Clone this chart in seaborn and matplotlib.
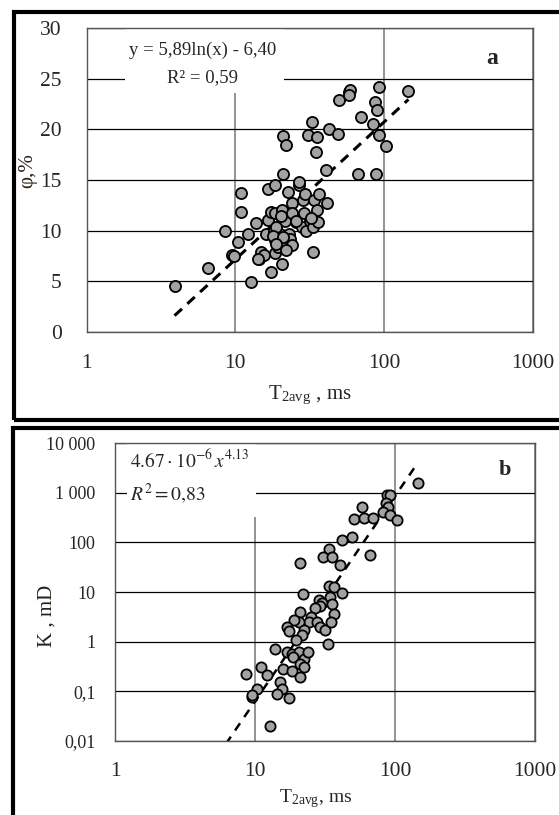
import matplotlib
matplotlib.use("Agg")
import matplotlib.pyplot as plt
import matplotlib.ticker as mticker
from matplotlib.patches import Rectangle
import numpy as np
import seaborn as sns

sns.set_theme(style="white")
plt.rcParams["font.family"] = ["Liberation Serif", "DejaVu Serif"]
plt.rcParams["mathtext.fontset"] = "stix"

# ---- panel a: porosity vs T2avg ----
phi_t2 = [3.9, 6.5, 8.5, 9.5, 9.8, 10.5, 10.9, 11.0, 12.1, 12.7,
          13.8, 14.4, 14.8, 15.6, 16.0, 16.6, 16.6, 17.3, 17.5, 18.4,
          18.6, 18.2, 18.5, 18.4, 19.4, 20.0, 20.5, 20.7, 21.0, 21.0,
          21.6, 21.9, 22.4, 22.5, 22.9, 23.4, 24.0, 24.0, 24.0, 25.5,
          27.0, 27.9, 28.6, 28.9, 29.4, 30.0, 30.7, 31.6, 33.0, 33.2,
          33.6, 33.4, 34.8, 35.3, 35.5, 36.1, 36.7, 40.4, 41.3, 42.4,
          49.1, 50.0, 57.8, 59.0, 66.5, 69.5, 84.5, 86.8, 88.5, 90.3,
          92.0, 92.0, 103.0, 145.0, 26.8, 32.5, 20.4, 18.8, 17.9, 20.9,
          22.0, 18.8, 14.1, 25.6, 58.3]
phi_val = [4.5, 6.3, 10.0, 7.65, 7.5, 8.9, 11.85, 13.7, 9.7, 4.9,
           10.8, 7.25, 7.9, 7.6, 9.7, 14.1, 11.1, 5.9, 11.85, 11.7,
           14.5, 10.0, 7.75, 9.05, 8.4, 9.7, 12.0, 6.75, 19.3, 15.6,
           11.0, 18.5, 8.55, 13.8, 9.7, 9.2, 12.7, 8.55, 11.7, 10.9,
           14.5, 10.4, 13.0, 11.7, 13.65, 10.0, 19.4, 11.0, 20.7, 7.85,
           13.0, 10.4, 17.75, 19.2, 12.0, 10.9, 13.65, 16.0, 12.7, 20.0,
           19.55, 22.85, 23.7, 23.9, 15.6, 21.2, 20.5, 22.7, 15.6, 21.9,
           24.2, 19.4, 18.4, 23.8, 14.76, 11.25, 11.48, 10.34, 9.5, 9.35,
           8.05, 8.7, 7.16, 11.0, 23.44]
phi_fit_a, phi_fit_b = 5.89, -6.40
phi_fit_range = [3.9, 146.0]

# ---- panel b: permeability vs T2avg ----
k_t2 = [146.5, 87.3, 91.7, 86.6, 89.0, 82.6, 92.0, 103.0, 58.6, 51.2,
        59.6, 70.1, 41.8, 49.2, 65.8, 33.6, 30.6, 35.5, 40.2, 20.9,
        33.6, 36.6, 41.8, 34.5, 22.1, 28.5, 30.1, 29.3, 35.5, 36.6,
        27.0, 21.1, 25.1, 24.2, 27.7, 29.3, 31.4, 35.2, 20.5, 19.0,
        17.0, 17.6, 22.5, 21.7, 19.5, 33.0, 14.0, 16.8, 18.4, 20.5,
        22.3, 24.0, 18.7, 15.9, 18.4, 21.1, 22.3, 20.8, 11.0, 12.2,
        8.6, 15.2, 15.6, 14.4, 17.5, 10.4, 9.6, 9.5, 12.8]
k_val = [1590, 900, 900, 611, 524, 415, 355, 282, 524, 295,
         303, 303, 111, 126, 55.3, 73, 51, 51, 34.8, 37.6,
         13.1, 12.7, 9.7, 8.0, 9.0, 7.0, 6.0, 5.2, 5.8, 3.55,
         4.86, 3.97, 3.15, 2.5, 2.5, 1.98, 1.69, 2.5, 2.5, 2.7,
         1.98, 1.62, 1.69, 1.34, 1.06, 0.91, 0.72, 0.62, 0.57, 0.62,
         0.45, 0.62, 0.49, 0.285, 0.26, 0.35, 0.31, 0.19, 0.31, 0.21,
         0.226, 0.153, 0.113, 0.089, 0.074, 0.113, 0.076, 0.085, 0.0205]
k_fit_a, k_fit_b = 4.67e-6, 4.13
k_fit_range = [6.2, 145.0]

x_ticks = [1, 10, 100, 1000]
x_labels = ["1", "10", "100", "1000"]
phi_ticks = [0, 5, 10, 15, 20, 25, 30]
k_ticks = [0.01, 0.1, 1, 10, 100, 1000, 10000]
k_labels = ["0,01", "0,1", "1", "10", "100", "1 000", "10 000"]

fig = plt.figure(figsize=(5.59, 8.15), dpi=100)

# outer black frames
fig.patches.append(Rectangle((0.025, 0.4847), 1.1, 0.5006, fill=False,
                             ec="black", lw=3.0, transform=fig.transFigure))
fig.patches.append(Rectangle((0.0233, -0.1), 1.1, 0.5748, fill=False,
                             ec="black", lw=3.0, transform=fig.transFigure))

marker_kw = dict(color="#a2a2a2", edgecolor="black", linewidth=1.3, zorder=3)


def style_axes(ax):
    ax.set_axisbelow(True)
    for sp in ax.spines.values():
        sp.set_color("#555555")
        sp.set_linewidth(1.0)
    ax.tick_params(length=0)
    ax.xaxis.grid(True, color="#808080", lw=1.2)
    ax.yaxis.grid(True, color="black", lw=0.9)


# ---- panel a ----
ax1 = fig.add_axes([0.155, 0.5926, 0.798, 0.373])
ax1.set_xscale("log")
ax1.set_xlim(1, 1000)
ax1.set_ylim(0, 30)
style_axes(ax1)
xf = np.array(phi_fit_range)
ax1.plot(xf, phi_fit_a * np.log(xf) + phi_fit_b, color="black", lw=2.2,
         dashes=(3.3, 2.4), zorder=2.5)
sns.scatterplot(x=phi_t2, y=phi_val, ax=ax1, s=64, **marker_kw)
ax1.set_xticks(x_ticks)
ax1.xaxis.set_major_formatter(mticker.FixedFormatter(x_labels))
ax1.xaxis.set_minor_locator(mticker.NullLocator())
ax1.set_yticks(phi_ticks)
ax1.tick_params(axis="x", labelsize=15.5, pad=16)
ax1.tick_params(axis="y", labelsize=15.5, pad=18)
ax1.set_xlabel(r"T$_{\mathregular{2avg}}$ , ms", fontsize=15)
ax1.xaxis.set_label_coords(0.50, -0.17)
ax1.set_ylabel("φ,%", fontsize=15, color="#2b2118")
ax1.yaxis.set_label_coords(-0.11, 0.53)
ax1.add_patch(Rectangle((0.085, 0.786), 0.357, 0.214, transform=ax1.transAxes,
                        fc="white", ec="none", zorder=1))
ax1.text(0.259, 0.925, "y = 5,89ln(x) - 6,40", transform=ax1.transAxes,
         ha="center", va="center", fontsize=13.5, zorder=4)
ax1.text(0.259, 0.836, "R² = 0,59", transform=ax1.transAxes,
         ha="center", va="center", fontsize=13.5, zorder=4)
ax1.text(0.909, 0.901, "a", transform=ax1.transAxes, ha="center",
         va="center", fontsize=17, fontweight="bold")

# ---- panel b ----
ax2 = fig.add_axes([0.2057, 0.0908, 0.7513, 0.3656])
ax2.set_xscale("log")
ax2.set_yscale("log")
ax2.set_xlim(1, 1000)
ax2.set_ylim(0.01, 10000)
style_axes(ax2)
xf2 = np.array(k_fit_range)
ax2.plot(xf2, k_fit_a * xf2 ** k_fit_b, color="black", lw=1.8,
         dashes=(3.5, 3.0), zorder=2.5)
sns.scatterplot(x=k_t2, y=k_val, ax=ax2, s=54, **marker_kw)
ax2.set_xticks(x_ticks)
ax2.xaxis.set_major_formatter(mticker.FixedFormatter(x_labels))
ax2.xaxis.set_minor_locator(mticker.NullLocator())
ax2.set_yticks(k_ticks)
ax2.yaxis.set_major_formatter(mticker.FixedFormatter(k_labels))
ax2.yaxis.set_minor_locator(mticker.NullLocator())
ax2.tick_params(axis="x", labelsize=15.5, pad=15)
ax2.tick_params(axis="y", labelsize=13, pad=14)
ax2.set_xlabel(r"T$_{\mathregular{2avg}}$, ms", fontsize=14)
ax2.xaxis.set_label_coords(0.479, -0.155)
ax2.set_ylabel("K , mD", fontsize=15, color="#2b2118")
ax2.yaxis.set_label_coords(-0.14, 0.42)
ax2.add_patch(Rectangle((0.0286, 0.752), 0.307, 0.248, transform=ax2.transAxes,
                        fc="white", ec="none", zorder=1))
ax2.text(0.036, 0.943, r"$4.67\cdot10^{-6}\,x^{4.13}$", transform=ax2.transAxes,
         ha="left", va="center", fontsize=14, zorder=4)
ax2.text(0.036, 0.829, r"$R^{2}=0{,}83$", transform=ax2.transAxes,
         ha="left", va="center", fontsize=14, zorder=4)
ax2.text(0.929, 0.909, "b", transform=ax2.transAxes, ha="center",
         va="center", fontsize=16, fontweight="bold")

fig.savefig("out.png", dpi=100)
